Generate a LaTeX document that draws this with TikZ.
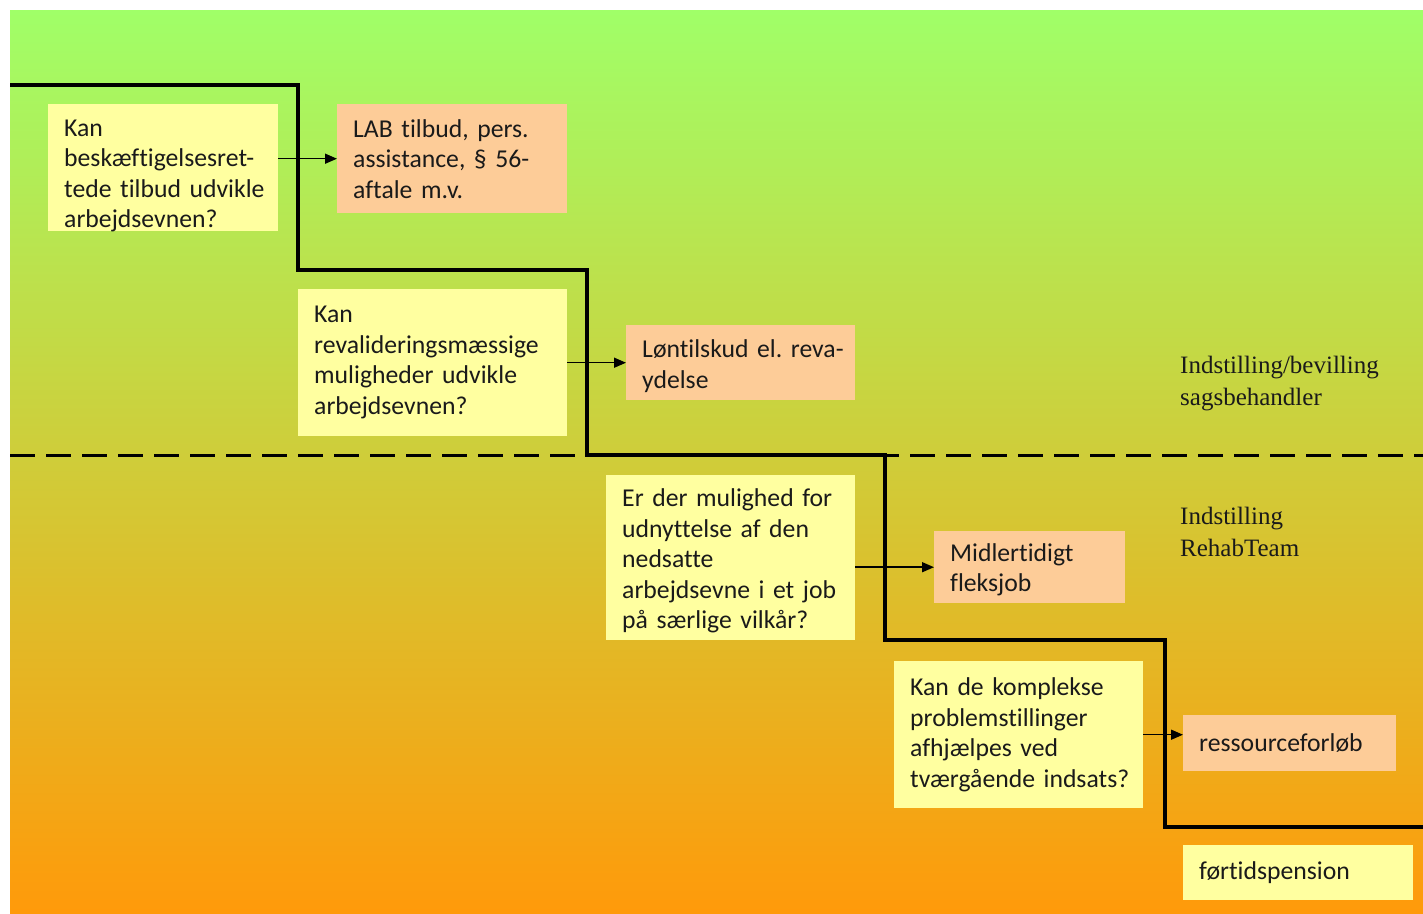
\documentclass[tikz,border=0pt]{standalone}
\usepackage{fontspec}
\setmainfont{Carlito}[Ligatures=NoCommon, WordSpace=0.6]
\newfontfamily\labserif{Liberation Serif}
\usetikzlibrary{arrows.meta}
\definecolor{qyellow}{HTML}{FFFFA0}
\definecolor{aorange}{HTML}{FDCC98}
\definecolor{bgtop}{HTML}{A0FF68}
\definecolor{bgmid}{HTML}{D6DC50}
\definecolor{bgbot}{HTML}{FF9A0A}
\definecolor{ink}{HTML}{1A1A1A}
\begin{document}
\begin{tikzpicture}[x=1pt,y=-1pt,
  box/.style={anchor=north west, inner xsep=16pt, inner ysep=0pt, align=left,
    font=\fontsize{25.7}{30.5}\selectfont, text=ink,
    execute at begin node={\hyphenpenalty=10000 \exhyphenpenalty=10000 \hbadness=10000 \hfuzz=100pt}},
  drop/.style={execute at begin node={\rule{0pt}{\dimexpr16.5pt+#1\relax}}},
  qbox/.style={box, fill=qyellow},
  abox/.style={box, fill=aorange},
  lab/.style={anchor=west, inner sep=0pt, align=left, text=ink,
    font=\labserif\fontsize{25}{32}\selectfont},
  stair/.style={line width=4pt, line join=miter, draw=black},
  divider/.style={line width=3pt, dash pattern=on 25pt off 11pt},
  arr/.style={line width=1.5pt, -{Triangle[length=12pt,width=10pt]}}
]
\useasboundingbox (0,0) rectangle (1423,913);
\shade[top color=bgtop, middle color=bgmid, bottom color=bgbot] (10,10) rectangle (1423,913);

% staircase
\draw[stair] (10,85) -- (298,85) -- (298,270) -- (587,270) -- (587,455)
  -- (885,455) -- (885,640) -- (1165,640) -- (1165,827) -- (1423,827);
% divider
\draw[divider] (10,455) -- (1423,455);

% boxes
\node[qbox, text width=198pt, minimum height=127pt, inner ysep=-1pt, drop=16pt] (q1) at (48,104)
  {Kan\\beskæftigelsesret-\\tede~tilbud~udvikle\\arbejdsevnen?};
\node[abox, text width=198pt, minimum height=109pt] (a1) at (337,104)
  {LAB~tilbud,~pers.\\assistance,~§~56-\\aftale~m.v.};
\node[qbox, text width=237pt, minimum height=147pt] (q2) at (298,289)
  {Kan\\revalideringsmæssige\\muligheder~udvikle\\arbejdsevnen?};
\node[abox, text width=197pt, minimum height=75pt, drop=8pt] (a2) at (626,325)
  {Løntilskud~el.~reva-\\ydelse};
\node[qbox, text width=217pt, minimum height=165pt, drop=8pt] (q3) at (606,475)
  {Er~der~mulighed~for\\udnyttelse~af~den\\nedsatte\\arbejdsevne~i~et~job\\på~særlige~vilkår?};
\node[abox, text width=159pt, minimum height=72pt, drop=6pt] (a3) at (934,531)
  {Midlertidigt\\fleksjob};
\node[qbox, text width=217pt, minimum height=147pt] (q4) at (894,661)
  {Kan~de~komplekse\\problemstillinger\\afhjælpes~ved\\tværgående~indsats?};
\node[abox, text width=181pt, minimum height=56pt] (a4) at (1183,715)
  {ressourceforløb};
\node[qbox, text width=198pt, minimum height=55pt] (f) at (1183,845)
  {førtidspension};

% labels
\node[lab] (l1) at (1180,384) {Indstilling/bevilling\\sagsbehandler};
\node[lab] (l2) at (1180,532) {Indstilling\\RehabTeam};

% arrows
\draw[arr] (q1.east |- a1.west) -- (a1.west);
\draw[arr] (q2.east |- a2.west) -- (a2.west);
\draw[arr] (q3.east |- a3.west) -- (a3.west);
\draw[arr] (q4.east) -- (q4.east -| a4.west);
\end{tikzpicture}
\end{document}
